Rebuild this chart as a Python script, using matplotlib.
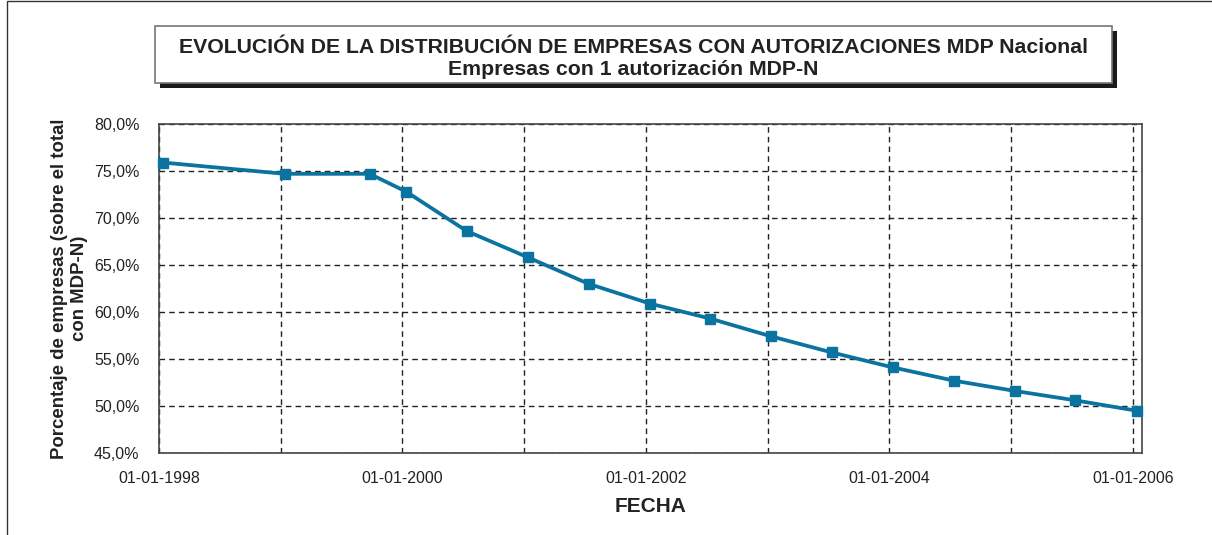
import matplotlib
matplotlib.use("Agg")
import matplotlib.pyplot as plt
import matplotlib.dates as mdates
import pandas as pd
from matplotlib.patches import Rectangle
from matplotlib.ticker import FixedLocator, FuncFormatter

# ---- data ----
fechas = ["1998-01-01", "1999-01-01", "1999-09-13", "2000-01-01", "2000-07-01",
          "2001-01-01", "2001-07-01", "2002-01-01", "2002-07-01", "2003-01-01",
          "2003-07-01", "2004-01-01", "2004-07-01", "2005-01-01", "2005-07-01",
          "2006-01-01"]
porcentaje = [75.9, 74.7, 74.7, 72.8, 68.6, 65.8, 63.0, 60.9, 59.3, 57.4,
              55.7, 54.1, 52.7, 51.6, 50.6, 49.5]
x_tick_labels = ["01-01-1998", "", "01-01-2000", "", "01-01-2002", "",
                 "01-01-2004", "", "01-01-2006"]
y_ticks = [45, 50, 55, 60, 65, 70, 75, 80]

titulo1 = "EVOLUCIÓN DE LA DISTRIBUCIÓN DE EMPRESAS CON AUTORIZACIONES MDP Nacional"
titulo2 = "Empresas con 1 autorización MDP-N"
ylabel = "Porcentaje de empresas (sobre el total\ncon MDP-N)"
xlabel = "FECHA"

plt.rcParams['font.family'] = ['Liberation Sans', 'DejaVu Sans']

W, H = 1212, 535
fig = plt.figure(figsize=(W / 100, H / 100), dpi=100)

def fx(px):
    return px / W

def fy(py):
    return 1 - py / H

ax = fig.add_axes([fx(159), fy(453), fx(1142) - fx(159), fy(124) - fy(453)])

x = pd.to_datetime(fechas)
color = "#0A73A0"
ax.plot(x, porcentaje, color=color, linewidth=2.7, marker="s", markersize=7.8,
        markerfacecolor=color, markeredgecolor=color, zorder=3, clip_on=False)

start = mdates.date2num(pd.Timestamp("1998-01-01")) - 12
step = 365.3
tick_pos = [start + i * step for i in range(len(x_tick_labels))]
ax.set_xlim(start, start + 2950)
ax.xaxis.set_major_locator(FixedLocator(tick_pos))
ax.set_xticklabels(x_tick_labels)

ax.set_ylim(45, 80)
ax.set_yticks(y_ticks)
ax.yaxis.set_major_formatter(FuncFormatter(lambda v, p: f"{v:.1f}%".replace(".", ",")))

ax.grid(True, color="#222222", linestyle=(0, (4, 3)), linewidth=1.0, zorder=1)
ax.tick_params(axis="both", length=0, labelsize=11.5, colors="#222222")
ax.tick_params(axis="x", pad=13)
ax.tick_params(axis="y", pad=14)
for s in ax.spines.values():
    s.set_color("#444444")
    s.set_linewidth(1.2)

ax.set_ylabel(ylabel, fontsize=13.4, fontweight="bold", color="#222222",
              labelpad=4, linespacing=1.3)
ax.set_xlabel(xlabel, fontsize=15, fontweight="bold", color="#222222", labelpad=8)

# Title box with shadow
bx0, by0, bx1, by1 = 155, 26, 1112, 83
sh = 5
fig.patches.append(Rectangle((fx(bx0 + sh), fy(by1 + sh)), fx(bx1 - bx0), fy(by0) - fy(by1),
                             transform=fig.transFigure, facecolor="#1a1a1a",
                             edgecolor="none", zorder=1))
fig.patches.append(Rectangle((fx(bx0), fy(by1)), fx(bx1 - bx0), fy(by0) - fy(by1),
                             transform=fig.transFigure, facecolor="white",
                             edgecolor="#777777", linewidth=1.2, zorder=2))
cx = fx((bx0 + bx1) / 2)
fig.text(cx, fy(53), titulo1, ha="center", va="baseline", fontsize=15.3,
         fontweight="bold", color="#222222", zorder=3)
fig.text(cx, fy(75), titulo2, ha="center", va="baseline", fontsize=15.3,
         fontweight="bold", color="#222222", zorder=3)

# outer frame
fig.patches.append(Rectangle((fx(7), fy(545)), fx(1225 - 7), fy(1) - fy(545),
                             transform=fig.transFigure, facecolor="none",
                             edgecolor="#333333", linewidth=1.0, zorder=0))

fig.savefig("out.png", dpi=100)
